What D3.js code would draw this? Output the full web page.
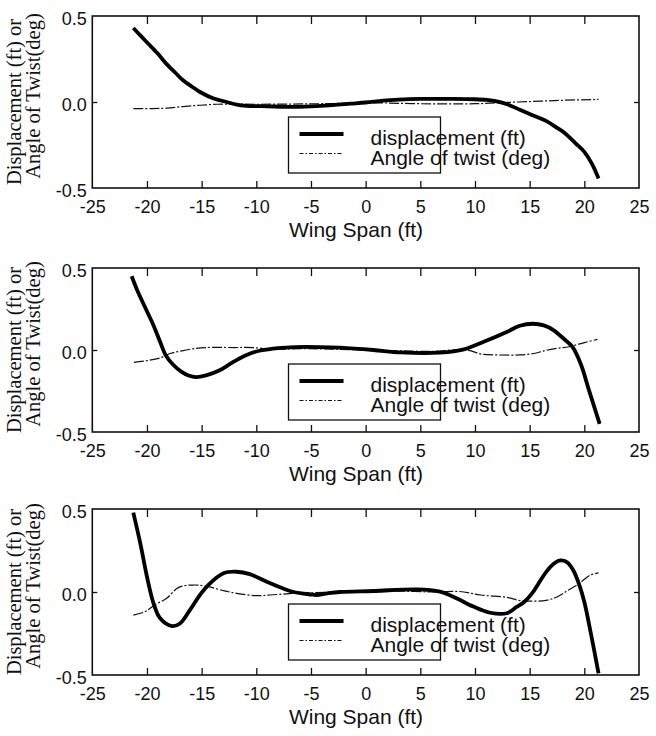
<!DOCTYPE html>
<html>
<head>
<meta charset="utf-8">
<script src="https://cdn.jsdelivr.net/npm/d3@7"></script>
<style>
  body { margin: 0; background: #fff; }
  svg { display: block; }
  .tick text { font-family: "Liberation Sans", Arial, sans-serif; font-size: 18px; fill: #111; }
  .tick line { stroke: #111; stroke-width: 1.3; }
  .domain { display: none; }
</style>
</head>
<body>
<svg id="chart" width="656" height="736"></svg>
<script>
// axis ticks
var xTicks = [-25, -20, -15, -10, -5, 0, 5, 10, 15, 20, 25];
var xInnerTicks = [-20, -15, -10, -5, 0, 5, 10, 15, 20];
var yTicks = [-0.5, 0, 0.5];
var yTickLabels = ["-0.5", "0.0", "0.5"];

var xTitle = "Wing Span (ft)";
var yTitle1 = "Displacement (ft) or";
var yTitle2 = "Angle of Twist(deg)";
var seriesNames = ["displacement (ft)", "Angle of twist (deg)"];

// panel 1 : [wing span, value]
var disp1 = [[-21.25, 0.43], [-20.5, 0.38], [-19.9, 0.34], [-19, 0.28], [-18.2, 0.22], [-17.4, 0.17],
  [-16.7, 0.126], [-15.9, 0.09], [-15.15, 0.058], [-13.9, 0.02], [-12.7, 0], [-11.8, -0.015],
  [-10.9, -0.022], [-9, -0.025], [-7, -0.028], [-5, -0.025], [-3, -0.018], [-1.4, -0.01], [0, -0.003],
  [1.6, 0.008], [3, 0.014], [5, 0.018], [8, 0.018], [10, 0.016], [11.1, 0.012], [12, 0.004],
  [13, -0.015], [14.1, -0.045], [15, -0.07], [16.5, -0.11], [17.5, -0.15], [18.2, -0.18],
  [19.2, -0.24], [20, -0.29], [20.7, -0.36], [21.3, -0.445]];
var twist1 = [[-21.25, -0.038], [-19.5, -0.038], [-18.2, -0.036], [-16.5, -0.025], [-15.15, -0.019],
  [-13.6, -0.013], [-12, -0.012], [-10, -0.013], [-7, -0.012], [-4, -0.01], [-1, -0.006], [1, -0.005],
  [5, -0.01], [10, -0.01], [12, -0.005], [14, 0], [16, 0.005], [18, 0.01], [21.3, 0.015]];

// panel 2
var disp2 = [[-21.4, 0.45], [-20.8, 0.35], [-20.1, 0.25], [-19.4, 0.15], [-18.8, 0.05], [-18.3, -0.03],
  [-17.6, -0.09], [-16.9, -0.13], [-16.2, -0.155], [-15.5, -0.165], [-14.6, -0.155], [-13.4, -0.125],
  [-12.4, -0.085], [-11.5, -0.05], [-10.5, -0.02], [-9.6, -0.003], [-8, 0.012], [-6.5, 0.018],
  [-4.2, 0.018], [-2.35, 0.014], [0.7, 0], [3.2, -0.015], [6.8, -0.016], [9, 0.004], [10.8, 0.05],
  [12.9, 0.11], [14.1, 0.148], [15.3, 0.16], [16.3, 0.15], [17.2, 0.12], [18.1, 0.07], [18.9, 0.02],
  [19.7, -0.09], [20.4, -0.24], [21.4, -0.45]];
var twist2 = [[-21.2, -0.075], [-20, -0.065], [-18.8, -0.048], [-17.8, -0.02], [-16.8, -0.005],
  [-15.5, 0.01], [-14.6, 0.015], [-12, 0.015], [-10.4, 0.015], [-8.6, 0.005], [-6, 0.008], [-3, 0.005],
  [0, 0], [3, -0.005], [6, -0.008], [9.3, 0], [10.5, -0.024], [12, -0.03], [14.1, -0.03],
  [15.5, -0.02], [16.3, -0.005], [17.5, 0.01], [18.6, 0.02], [20, 0.045], [21.2, 0.065]];

// panel 3
var disp3 = [[-21.25, 0.478], [-20.6, 0.29], [-20, 0.092], [-19.4, -0.068], [-18.8, -0.158],
  [-17.7, -0.205], [-16.98, -0.19], [-16.06, -0.108], [-15.15, -0.018], [-14.4, 0.042], [-13, 0.113],
  [-11.8, 0.122], [-10.6, 0.108], [-9.04, 0.062], [-7.5, 0.02], [-6.6, 0], [-5, -0.015], [-4.5, -0.018],
  [-3.5, -0.008], [-2.35, 0], [0.7, 0.006], [4.7, 0.016], [6.8, 0.002], [8.3, -0.038], [9.86, -0.088],
  [11.4, -0.125], [12.9, -0.128], [13.8, -0.09], [14.5, -0.06], [15.2, -0.01], [15.8, 0.05],
  [16.5, 0.12], [17.2, 0.17], [17.8, 0.19], [18.4, 0.18], [19, 0.13], [19.5, 0.05], [20, -0.06],
  [20.6, -0.25], [21.3, -0.49]];
var twist3 = [[-21.25, -0.139], [-20.2, -0.119], [-19.3, -0.078], [-18.2, -0.038], [-17.1, 0.028],
  [-15.75, 0.042], [-14.4, 0.032], [-13, 0.008], [-11.8, -0.008], [-10, -0.022], [-8.74, -0.018],
  [-7, -0.01], [-5, -0.005], [-2, 0], [0, 0], [3, 0.005], [6.5, 0], [8.6, 0.003], [10.5, -0.018],
  [12.9, -0.032], [14, -0.05], [15, -0.055], [16.5, -0.05], [17.5, -0.03], [18.5, 0.01],
  [19.5, 0.05], [20.5, 0.1], [21.3, 0.115]];

var panels = [
  { disp: disp1, twist: twist1, top: 16, bottom: 188, legendTop: 117 },
  { disp: disp2, twist: twist2, top: 268, bottom: 432, legendTop: 364 },
  { disp: disp3, twist: twist3, top: 509, bottom: 675, legendTop: 604 }
];

var plotLeft = 92.3, plotRight = 639;
var svg = d3.select("#chart");
var x = d3.scaleLinear().domain([-25, 25]).range([plotLeft, plotRight]);

panels.forEach(function(p) {
  var y = d3.scaleLinear().domain([-0.5, 0.5]).range([p.bottom, p.top]);
  var g = svg.append("g");

  // frame
  g.append("rect")
    .attr("x", plotLeft).attr("y", p.top)
    .attr("width", plotRight - plotLeft).attr("height", p.bottom - p.top)
    .attr("fill", "none").attr("stroke", "#111").attr("stroke-width", 1.6);

  // bottom ticks + labels (inward ticks)
  g.append("g")
    .attr("transform", "translate(0," + p.bottom + ")")
    .call(d3.axisBottom(x).tickValues(xTicks).tickSize(-7).tickPadding(12).tickFormat(d => String(d)))
    .selectAll(".tick line").filter(d => d == -25 || d == 25).remove();

  // top ticks
  g.append("g")
    .attr("transform", "translate(0," + p.top + ")")
    .call(d3.axisTop(x).tickValues(xInnerTicks).tickSize(-8).tickFormat(""));

  // left labels, inward tick at 0
  var yAxis = g.append("g")
    .attr("transform", "translate(" + plotLeft + ",0)")
    .call(d3.axisLeft(y).tickValues(yTicks).tickSize(-5).tickPadding(5.5)
      .tickFormat((d, i) => yTickLabels[i]));
  yAxis.selectAll(".tick line").filter(d => d != 0).remove();
  yAxis.selectAll(".tick text").attr("dy", "0.45em");

  // right tick at 0
  g.append("g")
    .attr("transform", "translate(" + plotRight + ",0)")
    .call(d3.axisRight(y).tickValues([0]).tickSize(-5).tickFormat(""));

  // axis titles
  g.append("text")
    .attr("x", 356).attr("y", p.bottom + 49)
    .attr("text-anchor", "middle")
    .style("font-family", "'Liberation Sans', Arial, sans-serif").style("font-size", "21px").attr("fill", "#111")
    .text(xTitle);

  var yc = (p.top + p.bottom) / 2;
  g.append("text")
    .attr("transform", "translate(21," + yc + ") rotate(-90)")
    .attr("text-anchor", "middle")
    .style("font-family", "'Liberation Serif', 'Times New Roman', serif").style("font-size", "20.5px").attr("fill", "#111")
    .text(yTitle1);
  g.append("text")
    .attr("transform", "translate(40," + (yc - 6) + ") rotate(-90)")
    .attr("text-anchor", "middle")
    .style("font-family", "'Liberation Serif', 'Times New Roman', serif").style("font-size", "20.5px").attr("fill", "#111")
    .text(yTitle2);

  // curves
  var line = d3.line()
    .x(d => x(d[0]))
    .y(d => y(d[1]))
    .curve(d3.curveCatmullRom.alpha(0.5));

  g.append("path")
    .datum(p.twist)
    .attr("d", line)
    .attr("fill", "none").attr("stroke", "#111").attr("stroke-width", 1.2)
    .attr("stroke-dasharray", "10,2,2,2");

  g.append("path")
    .datum(p.disp)
    .attr("d", line)
    .attr("fill", "none").attr("stroke", "#000").attr("stroke-width", 3.8)
    .attr("stroke-linejoin", "round");

  // legend
  var lg = g.append("g").attr("transform", "translate(288.5," + p.legendTop + ")");
  lg.append("rect")
    .attr("width", 152).attr("height", 56)
    .attr("fill", "none").attr("stroke", "#111").attr("stroke-width", 1.3);
  lg.append("line")
    .attr("x1", 11).attr("x2", 55).attr("y1", 17).attr("y2", 17)
    .attr("stroke", "#000").attr("stroke-width", 3.8);
  lg.append("line")
    .attr("x1", 11).attr("x2", 55).attr("y1", 36.5).attr("y2", 36.5)
    .attr("stroke", "#111").attr("stroke-width", 1.2).attr("stroke-dasharray", "4,2,1.5,2");
  seriesNames.forEach(function(name, i) {
    lg.append("text")
      .attr("x", 82).attr("y", 28 + i * 20)
      .style("font-family", "'Liberation Sans', Arial, sans-serif").style("font-size", "21px").attr("fill", "#111")
      .text(name);
  });
});
</script>
</body>
</html>
